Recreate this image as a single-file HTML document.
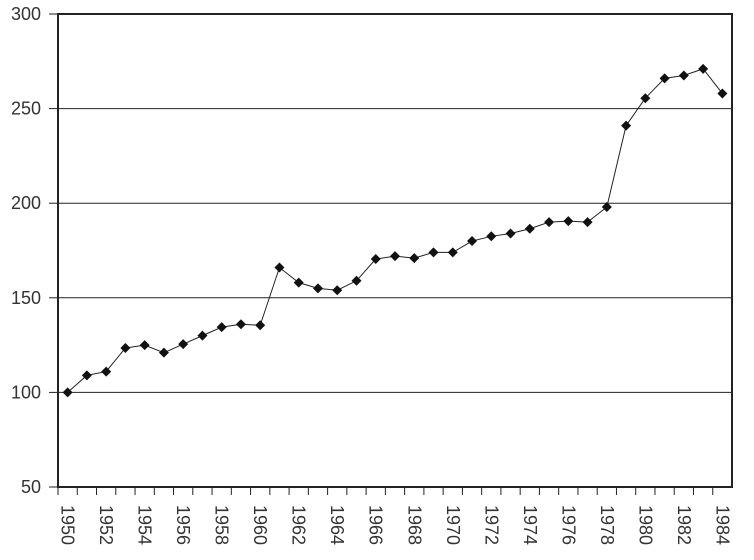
<!DOCTYPE html>
<html><head><meta charset="utf-8"><style>body{margin:0;background:#fff}svg{display:block}text{font-family:"Liberation Sans",sans-serif;fill:#333}</style></head>
<body>
<svg id="c" width="754" height="560" xmlns="http://www.w3.org/2000/svg"></svg>
<script>
const years=[1950,1951,1952,1953,1954,1955,1956,1957,1958,1959,1960,1961,1962,1963,1964,1965,1966,1967,1968,1969,1970,1971,1972,1973,1974,1975,1976,1977,1978,1979,1980,1981,1982,1983,1984];
const values=[100,109,111,123.5,125,121,125.5,130,134.5,136,135.5,166,158,155,154,159,170.5,172,171,174,174,180,182.5,184,186.5,190,190.5,190,198,241,255.5,266,267.5,271,258];
const yTicks=[50,100,150,200,250,300];
const L=58,R=732,T=14,B=487;
const NS='http://www.w3.org/2000/svg',svg=document.getElementById('c');
const bw=(R-L)/years.length;
const x=i=>L+bw*(i+0.5);
const y=v=>B-(v-50)/250*(B-T);
function mk(t,a,p){const e=document.createElementNS(NS,t);for(const k in a)e.setAttribute(k,a[k]);(p||svg).appendChild(e);return e;}
yTicks.forEach(v=>{
 if(v>50){const g=mk('line',{x1:L,x2:R,y1:y(v),y2:y(v),stroke:'#222','stroke-width':1});
 
 }
 const tk=mk('line',{x1:L-9,x2:L,y1:y(v),y2:y(v),stroke:'#222'});
 
 
 const t=mk('text',{x:41,y:y(v)+6,'text-anchor':'end','font-size':18});t.textContent=v;
 
 
});
const fr=mk('rect',{x:L,y:T,width:R-L,height:B-T,fill:'none',stroke:'#222','stroke-width':2});


years.forEach((yr,i)=>{
 const tk=mk('line',{x1:L+bw*i,x2:L+bw*i,y1:B,y2:B+8,stroke:'#222'});
 
 
 if(i%2===0){const t=mk('text',{transform:`translate(${x(i)-6},${B+18}) rotate(90)`,'font-size':18});t.textContent=yr;
 
 }
});
const ln=mk('polyline',{points:values.map((v,i)=>x(i)+','+y(v)).join(' '),fill:'none',stroke:'#222','stroke-width':1});


values.forEach((v,i)=>{const cx=x(i),cy=y(v),s=5;
 const m=mk('polygon',{points:`${cx},${cy-s} ${cx+s},${cy} ${cx},${cy+s} ${cx-s},${cy}`,fill:'#111'});
 
 
});
</script>
</body></html>
